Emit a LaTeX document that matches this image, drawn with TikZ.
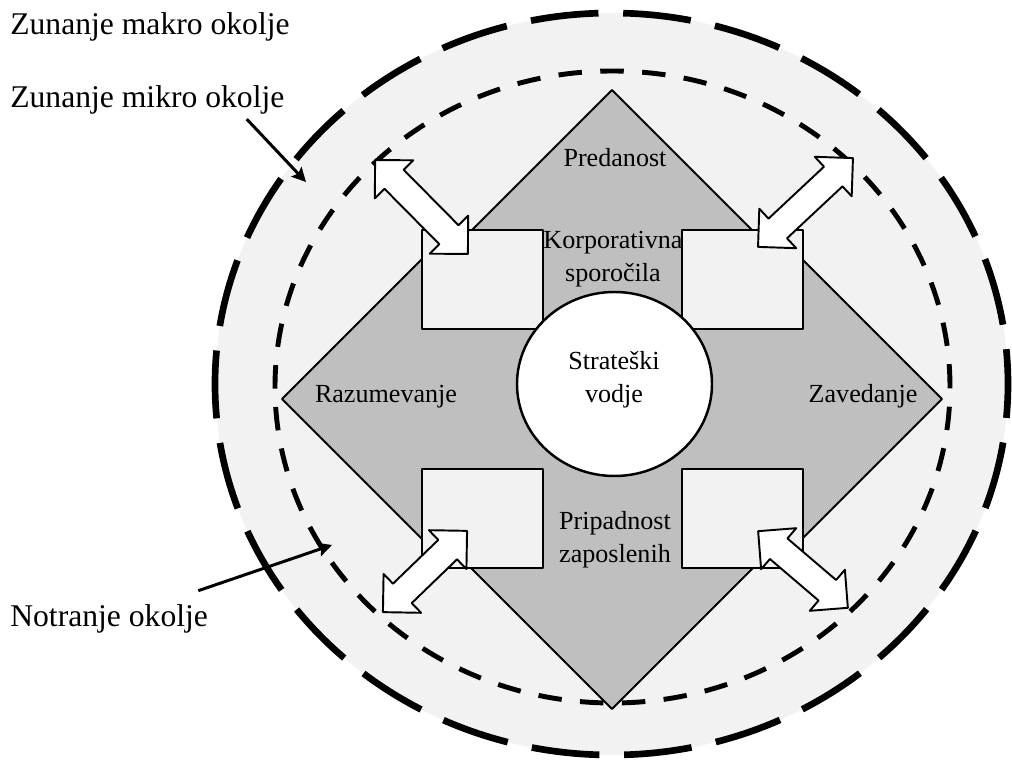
\documentclass[tikz,border=0pt]{standalone}
\usepackage{fontspec}
\setmainfont{Liberation Serif}
\usetikzlibrary{arrows.meta}
\definecolor{okolje}{HTML}{F2F2F2}
\definecolor{puscice}{HTML}{BFBFBF}
\newcommand{\vecji}{\fontsize{18}{21.6}\selectfont}
\newcommand{\manjsi}{\fontsize{14.85}{19.3}\selectfont}
% dvojna puscica: sredisce x, sredisce y, kot, dolzina
\newcommand{\dvojnapuscica}[4]{%
	\begin{scope}[shift={(#1,#2)},rotate=#3]
		\draw[dvojna] ({-#4/2},0) -- ({-#4/2+27},-27) -- ({-#4/2+27},-13.5) -- ({#4/2-27},-13.5) -- ({#4/2-27},-27)
			-- ({#4/2},0) -- ({#4/2-27},27) -- ({#4/2-27},13.5) -- ({-#4/2+27},13.5) -- ({-#4/2+27},27) -- cycle;
	\end{scope}}
\begin{document}
\begin{tikzpicture}[line join=round,>={Stealth[length=8pt,width=8pt,inset=1.5pt]},x=0.02cm,y=-0.02cm,
	zunanja/.style={line width=3.8pt,dash pattern=on 1.36cm off 0.4952cm,dash phase=0.68cm},
	notranja/.style={line width=2.8pt,dash pattern=on 0.47cm off 0.3682cm,dash phase=0.444cm},
	kriz/.style={draw=black,line width=1.1pt,fill=puscice},
	okno/.style={draw=black,line width=1.4pt,fill=okolje},
	dvojna/.style={draw=black,line width=1.1pt,fill=white},
	kazalec/.style={->,line width=1.7pt},
	napis/.style={inner sep=0pt,font=\manjsi,align=center,anchor=base},
	okvir/.style={inner sep=0pt,font=\vecji,anchor=base west}]
			\useasboundingbox (0,0) rectangle (1012,763);
			% okolje
			\draw[zunanja,fill=okolje] (611.5,384) ellipse [x radius=396.5,y radius=371];
			\draw[notranja] (612.5,387) ellipse [x radius=337.5,y radius=316];
			% stiri puscice
			\draw[kriz] (612,90) -- (452,250) -- (440,241) -- (282,399) -- (440,557) -- (452,549) -- (612,709)
				-- (772,549) -- (784,557) -- (942,399) -- (784,241) -- (772,250) -- cycle;
			\foreach \x/\y in {422/230,682/230,422/469,682/469}
				\draw[okno] (\x,\y) rectangle ++(121,99);
			\draw[line width=1.4pt,fill=white] (614.5,384) ellipse [x radius=97.5,y radius=92];
			\dvojnapuscica{421.5}{207}{-45.3}{132}
			\dvojnapuscica{805.5}{202.5}{43.1}{130}
			\dvojnapuscica{425}{571.5}{44}{117}
			\dvojnapuscica{803}{569.5}{-40.5}{118}
			% napisi (base = zadnja vrstica)
			\node[napis] (predanost) at (615,167) {Predanost};
			\node[napis] (korporativna) at (613,282) {Korporativna\\sporočila};
			\node[napis] (vodje) at (614,403) {Strateški\\vodje};
			\node[napis] (razumevanje) at (386,403) {Razumevanje};
			\node[napis] (zavedanje) at (863,403) {Zavedanje};
			\node[napis] (pripadnost) at (615,563) {Pripadnost\\zaposlenih};
			\node[okvir] (makro) at (10,35) {Zunanje makro okolje};
			\node[okvir] (mikro) at (10,108) {Zunanje mikro okolje};
			\node[okvir] (notranje) at (10,627) {Notranje okolje};
			\coordinate (mikrokonec) at (306,182);
			\coordinate (notranjekonec) at (332,545);
			\draw[kazalec] ([shift={(-38,4)}]mikro.south east) -- (mikrokonec);
			\draw[kazalec] ([shift={(-10,-14)}]notranje.north east) -- (notranjekonec);
	\end{tikzpicture}
\end{document}
